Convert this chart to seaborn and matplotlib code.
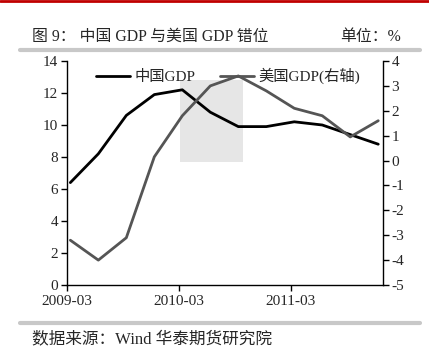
import pandas as pd
import numpy as np
import matplotlib.pyplot as plt
import seaborn as sns
from matplotlib.patches import Rectangle
from matplotlib.lines import Line2D

# quarterly data, 2009-03 .. 2011-12
quarters = ['2009-03', '2009-06', '2009-09', '2009-12',
            '2010-03', '2010-06', '2010-09', '2010-12',
            '2011-03', '2011-06', '2011-09', '2011-12']
china_gdp = [6.4, 8.2, 10.6, 11.9, 12.2, 10.8, 9.9, 9.9, 10.2, 10.0, 9.4, 8.8]
us_gdp = [-3.2, -4.0, -3.1, 0.15, 1.8, 3.0, 3.4, 2.8, 2.1, 1.8, 0.95, 1.6]
tick_labels = ['2009-03', '2010-03', '2011-03']

df = pd.DataFrame({'quarter': quarters, 'china': china_gdp, 'us': us_gdp})
df['x'] = np.arange(len(df)) + 0.13

sns.set_style('ticks')
plt.rcParams['font.family'] = ['Liberation Serif', 'Noto Sans CJK SC']
plt.rcParams['axes.unicode_minus'] = False

fig = plt.figure(figsize=(4.29, 3.53), dpi=100)
ax = fig.add_axes([0.1555, 0.1926, 0.7373, 0.6346])
ax2 = ax.twinx()

# shaded window
ax.add_patch(Rectangle((4.03, 7.7), 2.27, 5.1, facecolor='#e6e6e6',
                       edgecolor='none', zorder=0))

sns.lineplot(data=df, x='x', y='china', ax=ax, color='black', lw=2, zorder=3)
sns.lineplot(data=df, x='x', y='us', ax=ax2, color='#555555', lw=2, zorder=3)

ax.set_xlim(0, 11.3)
ax.set_ylim(0, 14)
ax.set_yticks(range(0, 15, 2))
ax2.set_ylim(-5, 4)
ax2.set_yticks(range(-5, 5))
ax.set_xticks([0, 4, 8])
ax.set_xticklabels(tick_labels)
ax.set_xlabel('')
ax.set_ylabel('')
ax2.set_ylabel('')

for a in (ax, ax2):
    a.tick_params(labelsize=11, length=4, width=1, color='black', pad=2)
    a.spines['top'].set_visible(False)
    for s in ('left', 'right', 'bottom'):
        a.spines[s].set_color('black')
        a.spines[s].set_linewidth(1)
ax.tick_params(axis='x', pad=3)
ax.spines['right'].set_visible(False)
ax2.spines['left'].set_visible(False)
ax2.spines['bottom'].set_visible(False)

handles = [Line2D([], [], color='black', lw=2),
           Line2D([], [], color='#555555', lw=2)]
ax.legend(handles, ['中国GDP', '美国GDP(右轴)'], loc='upper left',
          bbox_to_anchor=(0.05, 1.03), ncol=2, frameon=False, fontsize=11,
          handlelength=2.2, handletextpad=0.3, columnspacing=1.6)

# page decorations
fig.add_artist(Line2D([0, 1], [0.996, 0.996], color='#c00000', lw=2))
fig.add_artist(Line2D([0.047, 0.98], [0.858, 0.858], color='#c8c8c8', lw=3))
fig.add_artist(Line2D([0.047, 0.98], [0.085, 0.085], color='#c8c8c8', lw=3))
fig.text(0.075, 0.895, '图 9： 中国 GDP 与美国 GDP 错位', fontsize=11.4, va='center')
fig.text(0.935, 0.895, '单位：%', fontsize=11.4, va='center', ha='right')
fig.text(0.075, 0.04, '数据来源：Wind 华泰期货研究院', fontsize=12, va='center')

fig.savefig('out.png', dpi=100)
